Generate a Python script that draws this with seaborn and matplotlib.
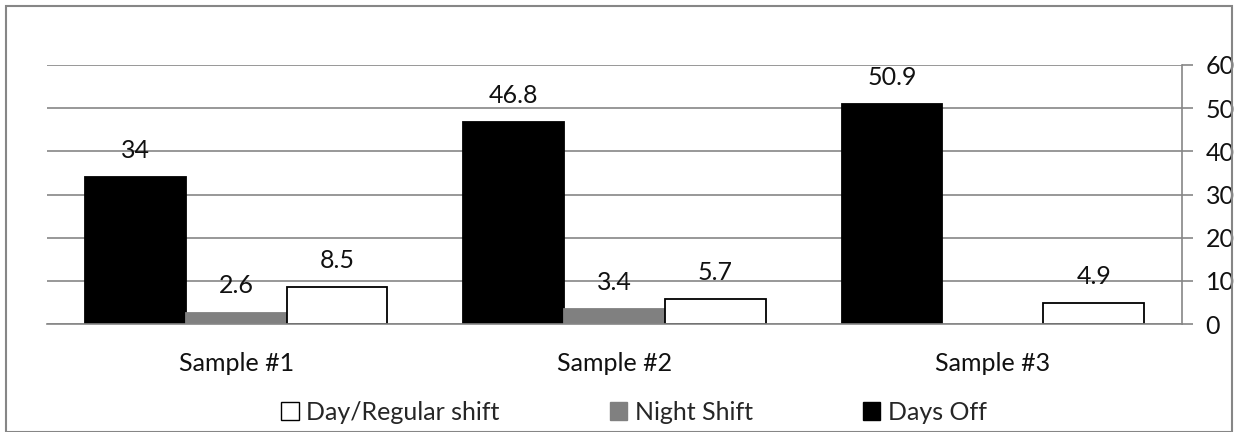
import matplotlib
matplotlib.use("Agg")
import matplotlib.pyplot as plt
import seaborn as sns
import pandas as pd
from matplotlib.patches import Rectangle, Patch

categories = ["Sample #1", "Sample #2", "Sample #3"]
days_off = [34, 46.8, 50.9]
night_shift = [2.6, 3.4, None]
day_regular = [8.5, 5.7, 4.9]
series_names = ["Days Off", "Night Shift", "Day/Regular shift"]
legend_order = ["Day/Regular shift", "Night Shift", "Days Off"]
y_ticks = [0, 10, 20, 30, 40, 50, 60]

rows = []
for name, vals in zip(series_names, [days_off, night_shift, day_regular]):
    for c, v in zip(categories, vals):
        if v is not None:
            rows.append({"Sample": c, "Series": name, "Value": v})
df = pd.DataFrame(rows)

sns.set_theme(style="white")
plt.rcParams["font.family"] = ["Lato", "DejaVu Sans"]

colors = {"Days Off": "#000000", "Night Shift": "#808080", "Day/Regular shift": "#ffffff"}
edges = {"Days Off": "#000000", "Night Shift": "#808080", "Day/Regular shift": "#000000"}
FS = 18

fig = plt.figure(figsize=(12.38, 4.32), dpi=100)
ax = fig.add_axes([47/1238, 1-324/432, (1182-47)/1238, (324-65)/432])

sns.barplot(data=df, x="Sample", y="Value", hue="Series", order=categories,
            hue_order=series_names, palette=colors, ax=ax, width=0.8,
            legend=False, saturation=1, errorbar=None)

for cont, name in zip(ax.containers, series_names):
    for p in cont:
        p.set_edgecolor(edges[name])
        p.set_linewidth(1.3)
    ax.bar_label(cont, fmt="%g", padding=11, fontsize=FS, color="#111111")

ax.set_xlim(-0.5, 2.5)
ax.set_ylim(0, 60)
ax.set_yticks(y_ticks)
ax.yaxis.tick_right()
ax.tick_params(axis="y", which="both", right=True, length=8, width=1.2,
               color="#868686", labelsize=FS, labelcolor="#111111", pad=9)
ax.tick_params(axis="x", length=0, labelsize=FS, labelcolor="#111111", pad=20)
ax.set_xlabel("")
ax.set_ylabel("")
ax.grid(axis="y", color="#868686", linewidth=1.2)
ax.set_axisbelow(True)
for s in ["left", "top"]:
    ax.spines[s].set_visible(False)
for s in ["right", "bottom"]:
    ax.spines[s].set_color("#868686")
    ax.spines[s].set_linewidth(1.2)

handles = [Patch(facecolor=colors[n], edgecolor=edges[n], linewidth=1.0) for n in legend_order]
fig.legend(handles, legend_order, loc="center", bbox_to_anchor=(634/1238, 1-412/432),
           ncol=3, frameon=False, fontsize=FS, handlelength=0.7, handleheight=0.7,
           handletextpad=0.3, columnspacing=4.4, borderpad=0)

fig.patches.append(Rectangle((6/1238, 0.5/432), 1226/1238, 1-6/432, transform=fig.transFigure,
                             fill=False, edgecolor="#868686", linewidth=1.5))

fig.savefig("out.png", dpi=100)
